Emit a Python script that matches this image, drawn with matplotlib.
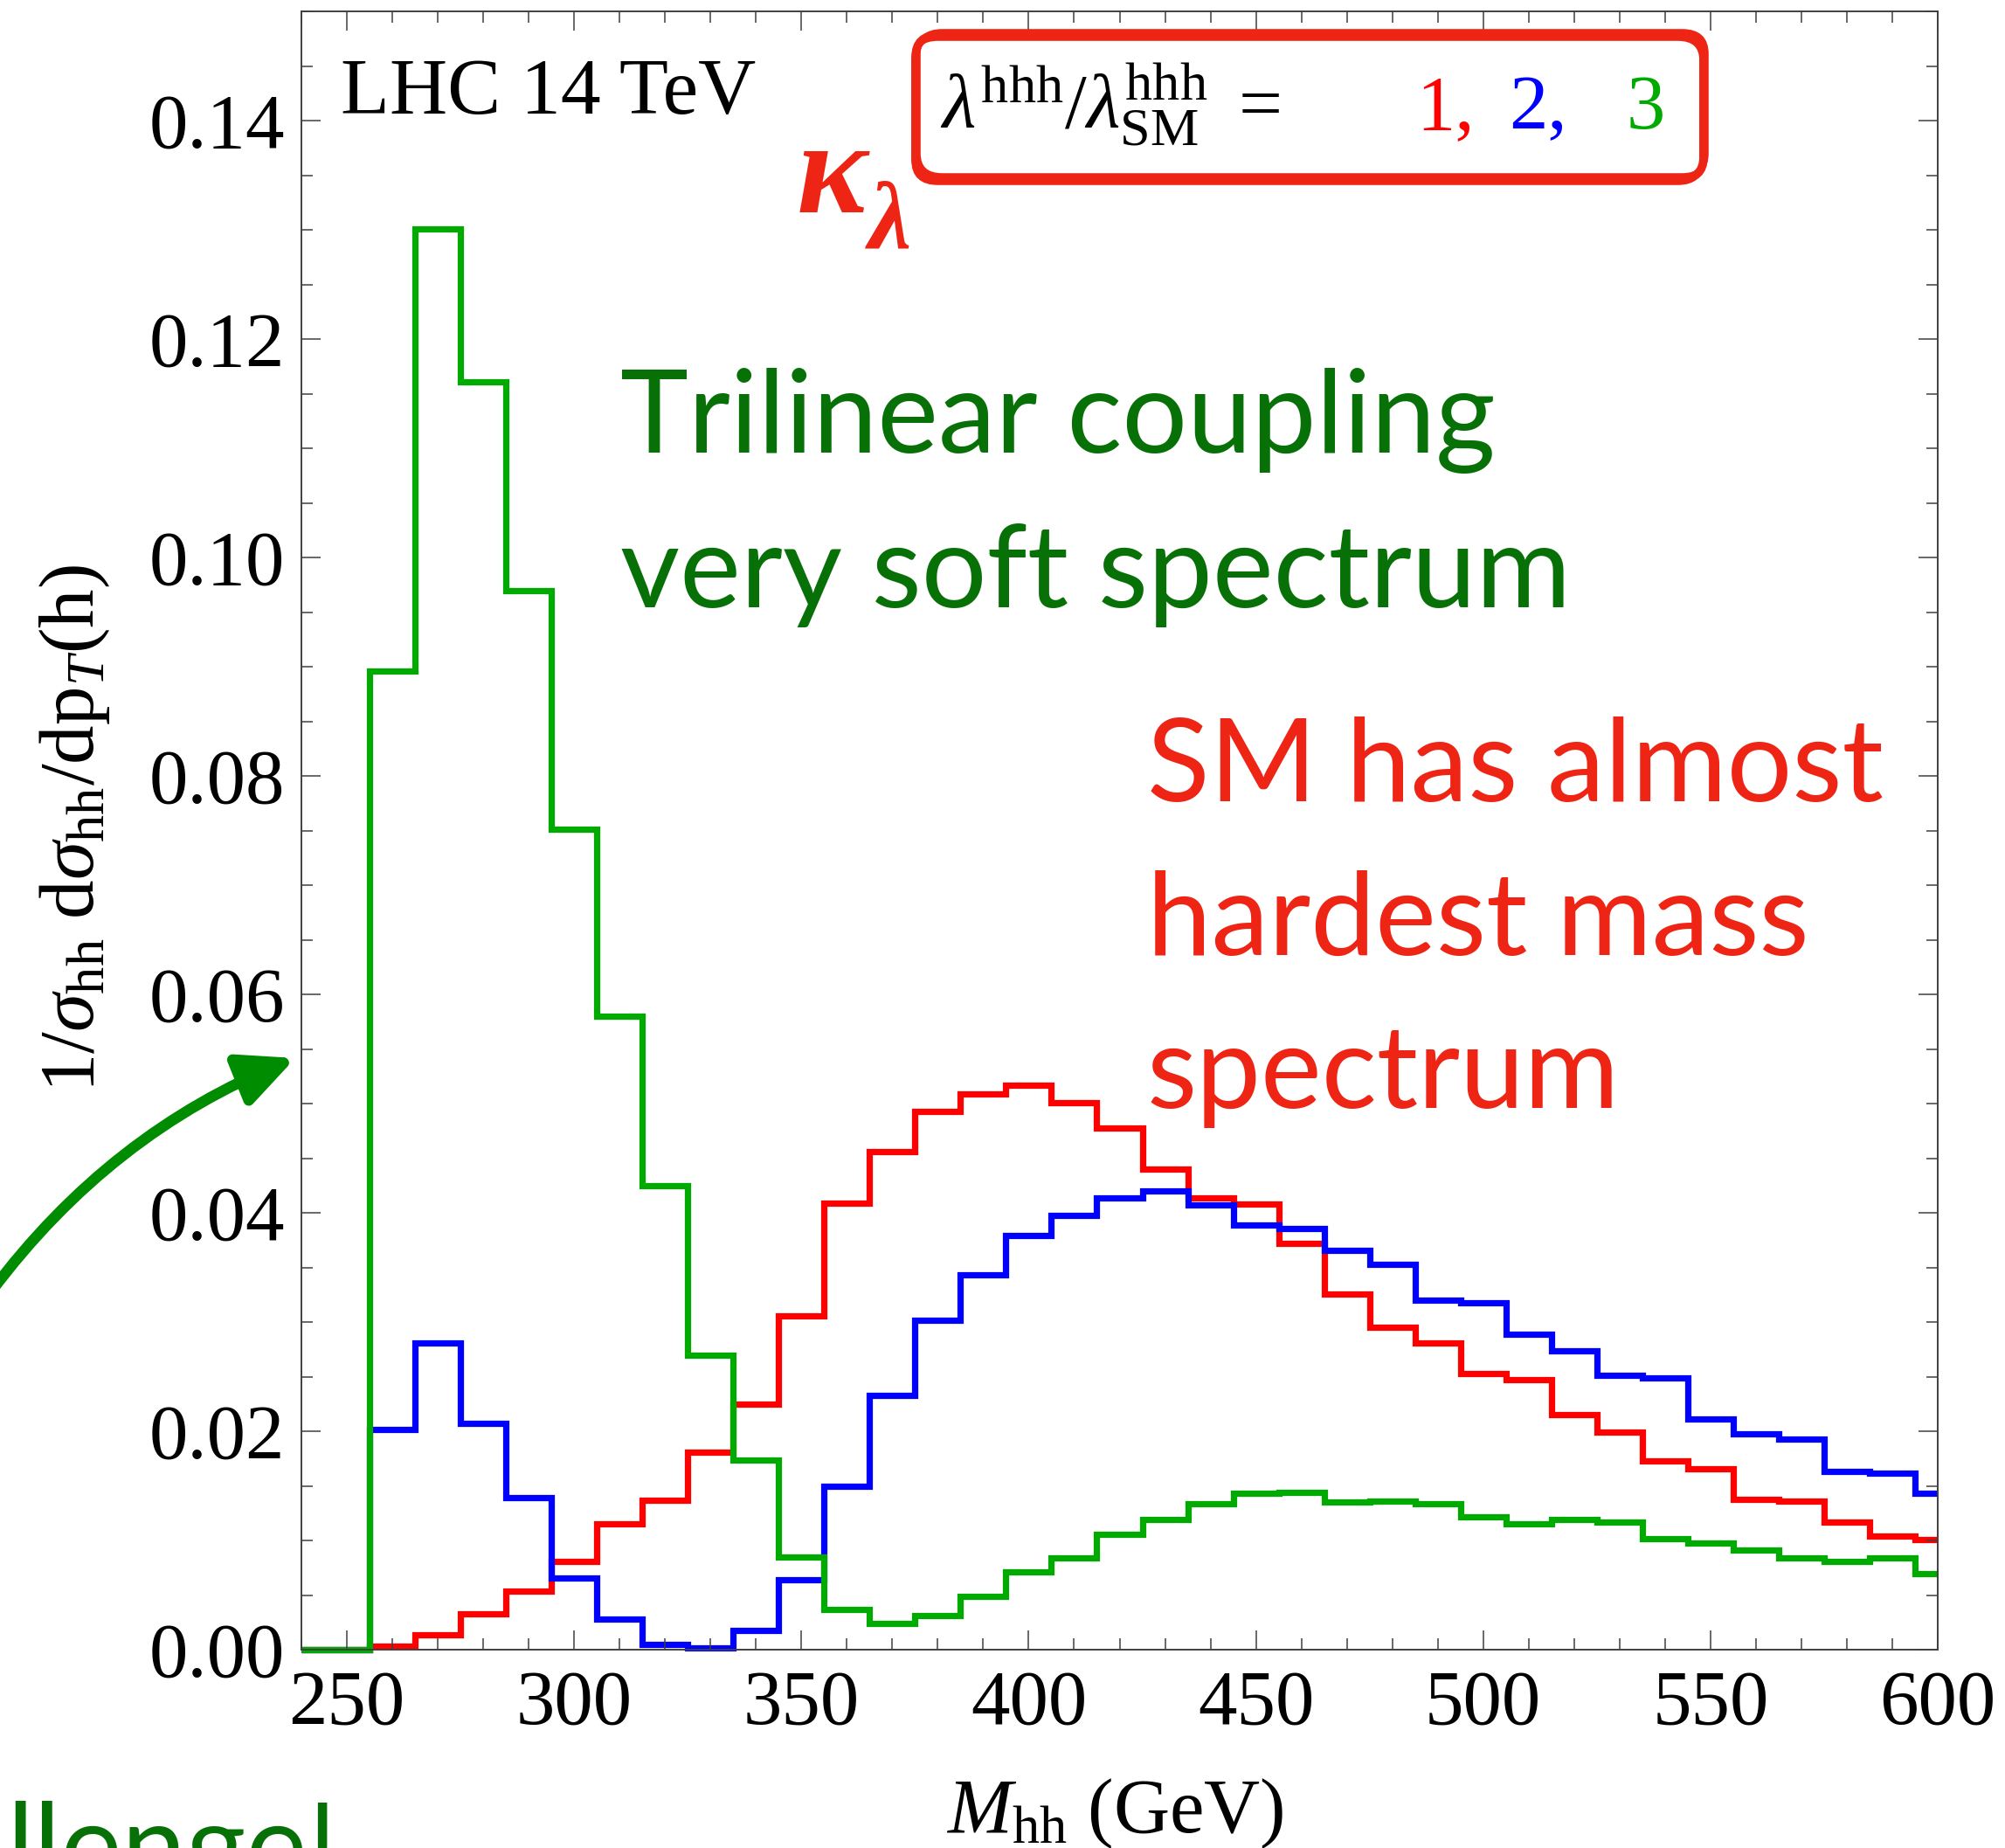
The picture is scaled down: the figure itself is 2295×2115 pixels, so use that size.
import numpy as np
import matplotlib
matplotlib.use("Agg")
import matplotlib.pyplot as plt
from matplotlib.ticker import MultipleLocator, FormatStrFormatter
from matplotlib.patches import FancyArrowPatch, FancyBboxPatch

plt.rcParams['font.family'] = ['Liberation Serif', 'DejaVu Serif']
plt.rcParams['mathtext.fontset'] = 'custom'
plt.rcParams['mathtext.rm'] = 'Liberation Serif'
plt.rcParams['mathtext.it'] = 'Liberation Serif:italic'
plt.rcParams['mathtext.bf'] = 'Liberation Serif:bold'

# bins of 10 GeV, left edges 255 ... 595 (M_hh in GeV)
bin_left = np.arange(255, 600, 10)

# kappa_lambda = 1 (SM)
sm = [0.0003, 0.0014, 0.0033, 0.0054, 0.0081, 0.0115, 0.0137, 0.0181, 0.0225, 0.0306,
      0.0409, 0.0456, 0.0493, 0.0509, 0.0517, 0.0501, 0.0478, 0.0440, 0.0414, 0.0408,
      0.0372, 0.0326, 0.0295, 0.0281, 0.0253, 0.0247, 0.0215, 0.0199, 0.0173, 0.0166,
      0.0138, 0.0136, 0.0117, 0.0104, 0.0101]
# kappa_lambda = 2
k2 = [0.0202, 0.0281, 0.0207, 0.0139, 0.0066, 0.0028, 0.0005, 0.0002, 0.0018, 0.0064,
      0.0150, 0.0233, 0.0302, 0.0343, 0.0379, 0.0398, 0.0414, 0.0420, 0.0407, 0.0389,
      0.0386, 0.0366, 0.0353, 0.0320, 0.0318, 0.0289, 0.0274, 0.0251, 0.0249, 0.0211,
      0.0198, 0.0193, 0.0163, 0.0162, 0.0143]
# kappa_lambda = 3
k3 = [0.0896, 0.1301, 0.1161, 0.0970, 0.0751, 0.0580, 0.0425, 0.0270, 0.0174, 0.0085,
      0.0037, 0.0024, 0.0031, 0.0049, 0.0071, 0.0084, 0.0106, 0.0119, 0.0134, 0.0143,
      0.0144, 0.0135, 0.0136, 0.0134, 0.0122, 0.0115, 0.0119, 0.0117, 0.0102, 0.0098,
      0.0091, 0.0084, 0.0081, 0.0084, 0.0070]

xmin, xmax = 240, 600
W, H = 2295, 2115

def fx(px):
    return px / W

def fy(py):
    return 1 - py / H

RED_TXT = '#ee2414'
GREEN_TXT = '#077007'

fig = plt.figure(figsize=(W / 100, H / 100), dpi=100)
ax = fig.add_axes([fx(345), fy(1888), fx(2218) - fx(345), fy(13) - fy(1888)])

edges = np.concatenate(([xmin], bin_left, [xmax]))
for vals, c in [(sm, '#ff0000'), (k2, '#0000ff'), (k3, '#00aa00')]:
    ax.stairs(np.concatenate(([0.0], vals)), edges, baseline=None,
              color=c, lw=5.2, clip_on=False)

ax.set_xlim(xmin, xmax)
ax.set_ylim(0, 0.15)
ax.xaxis.set_major_locator(MultipleLocator(50))
ax.xaxis.set_minor_locator(MultipleLocator(10))
ax.yaxis.set_major_locator(MultipleLocator(0.02))
ax.yaxis.set_minor_locator(MultipleLocator(0.005))
ax.yaxis.set_major_formatter(FormatStrFormatter('%.2f'))
ax.tick_params(which='both', direction='in', top=True, right=True,
               color='#404040', width=1.1, labelsize=64)
ax.tick_params(which='major', length=15.8)
ax.tick_params(which='minor', length=9.4)
ax.tick_params(axis='x', pad=16)
ax.tick_params(axis='y', pad=13.5)
for s in ax.spines.values():
    s.set_color('#404040')
    s.set_linewidth(1.4)

# axis titles
fig.text(fx(1276), fy(2097), r'$M_{\rm hh}$ (GeV)', ha='center', va='baseline', fontsize=64)
fig.text(fx(107), fy(948), r'$1/\sigma_{\rm hh}\ {\rm d}\sigma_{\rm hh}/{\rm dp}_{T}{\rm (h)}$',
         rotation=90, rotation_mode='anchor', ha='center', va='baseline', fontsize=64)

fig.text(fx(390), fy(130), 'LHC 14 TeV', ha='left', va='baseline', fontsize=66)

# legend-like label in the hand drawn box
fig.text(fx(1076), fy(147), r'$\lambda^{\rm hhh}/\lambda^{\rm hhh}_{\rm SM}$',
         ha='left', va='baseline', fontsize=64)
fig.text(fx(1418), fy(147), '=', ha='left', va='baseline', fontsize=64)
fig.text(fx(1621), fy(147), '1,', ha='left', va='baseline', fontsize=64, color='#ff0000')
fig.text(fx(1727), fy(147), '2,', ha='left', va='baseline', fontsize=64, color='#0000ff')
fig.text(fx(1862), fy(147), '3', ha='left', va='baseline', fontsize=64, color='#00aa00')

for dx, dy, lw in [(0, 0, 7), (3, -4, 4), (-2, 4, 4)]:
    box = FancyBboxPatch((fx(1048 + dx), fy(205 + dy)), fx(1950) - fx(1048), fy(40) - fy(205),
                         boxstyle='round,pad=0,rounding_size=0.012',
                         transform=fig.transFigure, fill=False,
                         edgecolor=RED_TXT, lw=lw)
    fig.add_artist(box)

fig.text(fx(912), fy(243), 'κ', ha='left', va='baseline', fontsize=110,
         style='italic', weight='bold', color=RED_TXT)
fig.text(fx(994), fy(283), 'λ', ha='left', va='baseline', fontsize=80,
         style='italic', weight='bold', color=RED_TXT)

# slide annotations
ann = dict(family=['Lato', 'DejaVu Sans'], fontsize=95, weight='normal',
           ha='left', va='baseline')
fig.text(fx(710), fy(518), 'Trilinear coupling', color=GREEN_TXT, **ann)
fig.text(fx(710), fy(695), 'very soft spectrum', color=GREEN_TXT, **ann)
fig.text(fx(1313), fy(917), 'SM has almost', color=RED_TXT, **ann)
fig.text(fx(1313), fy(1093), 'hardest mass', color=RED_TXT, **ann)
fig.text(fx(1313), fy(1268), 'spectrum', color=RED_TXT, **ann)
fig.text(fx(7), fy(2158), 'llenge!', color=GREEN_TXT, **ann)

arrow = FancyArrowPatch((fx(-10), fy(1478)), (fx(338), fy(1211)),
                        transform=fig.transFigure,
                        connectionstyle='arc3,rad=-0.14',
                        arrowstyle='-|>,head_length=38,head_width=18',
                        mutation_scale=1, lw=9, color='#008c00',
                        shrinkA=0, shrinkB=0)
fig.add_artist(arrow)

fig.savefig('out.png', dpi=100)
